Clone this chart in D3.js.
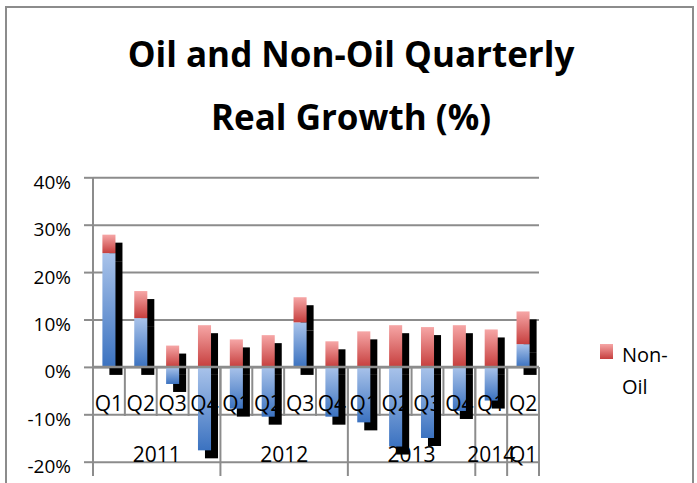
<!DOCTYPE html>
<html>
<head>
<meta charset="utf-8">
<script src="https://cdnjs.cloudflare.com/ajax/libs/d3/7.8.5/d3.min.js"></script>
<style>
  body { margin: 0; background: #fff; }
  text { font-family: "Open Sans", "Liberation Sans", sans-serif; fill: #000; }
</style>
</head>
<body>
<div id="chart"></div>
<script>
// chart data
var quarters = ["Q1","Q2","Q3","Q4","Q1","Q2","Q3","Q4","Q1","Q2","Q3","Q4","Q1","Q2"];
var groupLabels = ["2011","2012","2013","2014","Q1"];
var groupSizes = [4, 4, 4, 1, 1];
var oil = [24.0, 10.3, -3.6, -17.6, -8.8, -10.5, 9.4, -10.5, -11.7, -16.8, -15.0, -9.3, -7.1, 4.8];
var nonOil = [3.9, 5.7, 4.5, 8.8, 5.8, 6.7, 5.3, 5.4, 7.5, 8.8, 8.4, 8.8, 7.9, 6.9];
var yTicks = [-20, -10, 0, 10, 20, 30, 40];
var titleLines = ["Oil and Non-Oil Quarterly", "Real Growth (%)"];
var legendLines = ["Non-", "Oil"];

var width = 697, height = 483;
var plot = {left: 93, right: 539, top: 177.3, bottom: 461.7};
var gridColor = "#8c8c8c";

var svg = d3.select("#chart").append("svg")
  .attr("width", width)
  .attr("height", height);

// gradients like the excel fill
var defs = svg.append("defs");
function grad(id, top, bottom) {
  var g = defs.append("linearGradient").attr("id", id)
    .attr("x1", 0).attr("y1", 0).attr("x2", 0).attr("y2", 1);
  g.append("stop").attr("offset", "0%").attr("stop-color", top);
  g.append("stop").attr("offset", "100%").attr("stop-color", bottom);
}
grad("gOil", "#a9c3ea", "#3b72c0");
grad("gNon", "#f6a6a6", "#c63f3e");
defs.append("filter").attr("id", "soft")
  .append("feGaussianBlur").attr("stdDeviation", 0.6);

// outer frame
svg.append("rect")
  .attr("x", 6).attr("y", 7)
  .attr("width", 687).attr("height", 500)
  .attr("fill", "none")
  .attr("stroke", gridColor)
  .attr("stroke-width", 2);

// title
svg.append("g").selectAll("text")
  .data(titleLines)
  .enter().append("text")
    .attr("x", 351)
    .attr("y", function(d, i) { return 67 + i * 63; })
    .attr("text-anchor", "middle")
    .style("font-size", "35px")
    .style("font-weight", "bold")
    .text(function(d) { return d; });

// scales
var x = d3.scaleBand()
  .domain(d3.range(quarters.length))
  .range([plot.left, plot.right])
  .paddingInner(0.59)
  .paddingOuter(0.295);

var y = d3.scaleLinear()
  .domain([-20, 40])
  .range([plot.bottom, plot.top]);

// gridlines
var grid = svg.append("g")
  .attr("transform", "translate(" + plot.left + ",0)")
  .call(d3.axisLeft(y).tickValues(yTicks).tickSize(-(plot.right - plot.left)).tickFormat(""));
grid.select(".domain").remove();
grid.selectAll("line").attr("stroke", gridColor).attr("stroke-width", 2);

// y axis ticks and labels
var yAxis = svg.append("g")
  .attr("transform", "translate(" + plot.left + ",0)")
  .call(d3.axisLeft(y).tickValues(yTicks).tickSize(9).tickPadding(13)
    .tickFormat(function(d) { return d + "%"; }));
yAxis.select(".domain").remove();
yAxis.selectAll("line").attr("stroke", gridColor).attr("stroke-width", 2);
yAxis.selectAll("text")
  .attr("transform", "translate(0,5)")
  .style("font-size", "19px")
  .style("font-family", "'Open Sans', 'Liberation Sans', sans-serif");

svg.append("line")
  .attr("x1", plot.left).attr("x2", plot.left)
  .attr("y1", plot.top).attr("y2", 476)
  .attr("stroke", gridColor).attr("stroke-width", 2);

// stacked data
var rows = quarters.map(function(q, i) { return {i: i, oil: oil[i], nonOil: nonOil[i]}; });
var series = d3.stack()
  .keys(["oil", "nonOil"])
  .offset(d3.stackOffsetDiverging)(rows);

var fills = {oil: "url(#gOil)", nonOil: "url(#gNon)"};

// shadows first
svg.append("g").attr("filter", "url(#soft)")
  .selectAll("g")
  .data(series)
  .enter().append("g")
  .selectAll("rect")
  .data(function(d) { return d; })
  .enter().append("rect")
    .attr("x", function(d) { return x(d.data.i) + 7; })
    .attr("y", function(d) { return y(d[1]) + 8; })
    .attr("width", x.bandwidth())
    .attr("height", function(d) { return y(d[0]) - y(d[1]); })
    .attr("fill", "#000");

// bars
svg.append("g")
  .selectAll("g")
  .data(series)
  .enter().append("g")
    .attr("fill", function(d) { return fills[d.key]; })
  .selectAll("rect")
  .data(function(d) { return d; })
  .enter().append("rect")
    .attr("x", function(d) { return x(d.data.i); })
    .attr("y", function(d) { return y(d[1]); })
    .attr("width", x.bandwidth())
    .attr("height", function(d) { return y(d[0]) - y(d[1]); });

// zero axis over the bars
var y0 = y(0);
svg.append("line")
  .attr("x1", plot.left).attr("x2", plot.right)
  .attr("y1", y0).attr("y2", y0)
  .attr("stroke", gridColor).attr("stroke-width", 2.5);

// category separators
var step = x.step();
function edgeAt(i) { return plot.left + step * i; }

svg.append("g").selectAll("line")
  .data(d3.range(quarters.length + 1))
  .enter().append("line")
    .attr("x1", edgeAt).attr("x2", edgeAt)
    .attr("y1", y0).attr("y2", 416)
    .attr("stroke", gridColor).attr("stroke-width", 2);

var groupEdges = [0].concat(Array.from(d3.cumsum(groupSizes)));
svg.append("g").selectAll("line")
  .data(groupEdges)
  .enter().append("line")
    .attr("x1", function(d) { return edgeAt(d); })
    .attr("x2", function(d) { return edgeAt(d); })
    .attr("y1", y0).attr("y2", 476)
    .attr("stroke", gridColor).attr("stroke-width", 2);

// quarter labels
svg.append("g").selectAll("text")
  .data(quarters)
  .enter().append("text")
    .attr("x", function(d, i) { return x(i) + x.bandwidth() / 2; })
    .attr("y", 411)
    .attr("text-anchor", "middle")
    .style("font-size", "21px")
    .text(function(d) { return d; });

// year labels
svg.append("g").selectAll("text")
  .data(groupLabels)
  .enter().append("text")
    .attr("x", function(d, i) { return (edgeAt(groupEdges[i]) + edgeAt(groupEdges[i + 1])) / 2; })
    .attr("y", 462)
    .attr("text-anchor", "middle")
    .style("font-size", "21px")
    .text(function(d) { return d; });

// legend
svg.append("rect")
  .attr("x", 600).attr("y", 344)
  .attr("width", 13).attr("height", 15)
  .attr("fill", "url(#gNon)");
svg.append("g").selectAll("text")
  .data(legendLines)
  .enter().append("text")
    .attr("x", 622)
    .attr("y", function(d, i) { return 362 + i * 31.5; })
    .style("font-size", "20px")
    .text(function(d) { return d; });
</script>
</body>
</html>
